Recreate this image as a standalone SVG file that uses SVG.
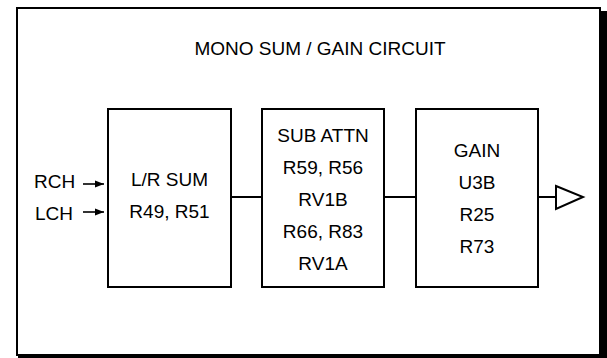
<svg xmlns="http://www.w3.org/2000/svg" width="607" height="358" viewBox="0 0 607 358">
<defs>
<style>
.t{font-family:"Liberation Sans",Arial,sans-serif;font-size:19px;fill:#000;text-anchor:middle}
.l{font-family:"Liberation Sans",Arial,sans-serif;font-size:19px;fill:#000}
.box{fill:#fff;stroke:#000;stroke-width:2}
.wire{fill:none;stroke:#000;stroke-width:2}
</style>
<marker id="ah" viewBox="0 0 10 10" refX="10" refY="5" markerWidth="9" markerHeight="9" markerUnits="userSpaceOnUse" orient="auto">
<path d="M0,1 L10,5 L0,9 Z" fill="#000"/>
</marker>
</defs>
<rect width="607" height="358" fill="#fff"/>
<g id="frame">
<rect x="18" y="11" width="589" height="347" fill="#000"/>
<rect x="17" y="8" width="583" height="347" fill="#fff" stroke="#000" stroke-width="2"/>
<text class="t" x="320" y="55">MONO SUM / GAIN CIRCUIT</text>
</g>
<g id="connectors">
<line class="wire" x1="231" y1="197" x2="262" y2="197"/>
<line class="wire" x1="384" y1="197" x2="416" y2="197"/>
<line class="wire" x1="538" y1="197" x2="556" y2="197"/>
<line x1="83" y1="184" x2="104" y2="184" stroke="#000" stroke-width="1.6" marker-end="url(#ah)"/>
<line x1="83" y1="212" x2="104" y2="212" stroke="#000" stroke-width="1.6" marker-end="url(#ah)"/>
</g>
<g id="rch"><text class="l" x="34" y="188">RCH</text></g>
<g id="lch"><text class="l" x="35" y="220">LCH</text></g>
<g id="lrsum">
<rect class="box" x="108" y="109" width="123" height="178"/>
<text class="t" x="169.5" y="186">L/R SUM</text>
<text class="t" x="169.5" y="218">R49, R51</text>
</g>
<g id="subattn">
<rect class="box" x="262" y="109" width="122" height="178"/>
<text class="t" x="323" y="142">SUB ATTN</text>
<text class="t" x="323" y="174">R59, R56</text>
<text class="t" x="323" y="206">RV1B</text>
<text class="t" x="323" y="238">R66, R83</text>
<text class="t" x="323" y="270">RV1A</text>
</g>
<g id="gain">
<rect class="box" x="416" y="109" width="122" height="178"/>
<text class="t" x="477" y="157">GAIN</text>
<text class="t" x="477" y="189">U3B</text>
<text class="t" x="477" y="221">R25</text>
<text class="t" x="477" y="253">R73</text>
</g>
<g id="output">
<path d="M556,186 L583,197 L556,209 Z" fill="#fff" stroke="#000" stroke-width="2"/>
</g>
</svg>
